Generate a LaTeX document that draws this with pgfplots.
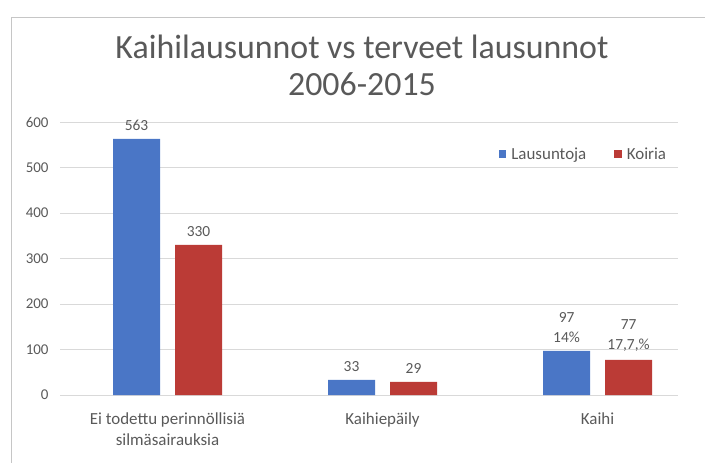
\documentclass[border=0pt]{standalone}
\usepackage{pgfplots}
\pgfplotsset{compat=1.18}
\usepackage{fontspec}
\setmainfont{Carlito}
\definecolor{cblue}{HTML}{4A76C6}
\definecolor{cred}{HTML}{BB3B36}
\definecolor{txt}{HTML}{595959}
\begin{document}
\begin{tikzpicture}
\path[use as bounding box] (0bp,0bp) rectangle (705bp,-463bp);
\draw[gray!45] (11bp,-17bp) rectangle (720bp,-480bp);
\node[anchor=base,text=txt,font=\fontsize{34}{40}\selectfont] at (362bp,-58bp) {Kaihilausunnot vs terveet lausunnot};
\node[anchor=base,text=txt,font=\fontsize{34}{40}\selectfont] at (362bp,-95bp) {2006-2015};
\begin{axis}[
  at={(60bp,-395bp)}, anchor=south west,
  scale only axis, width=618bp, height=273bp,
  xmin=-0.5, xmax=2.374, ymin=0, ymax=600,
  ybar=15bp, bar width=47bp,
  xtick={0,1,2},
  xticklabels={{Ei todettu perinnöllisiä\\silmäsairauksia},Kaihiepäily,Kaihi},
  ytick={0,100,...,600},
  /pgf/number format/assume math mode=true,
  major tick length=0pt,
  axis line style={draw=none},
  ymajorgrids, grid style={color=gray!30, line width=0.8pt},
  tick label style={text=txt},
  yticklabel style={font=\fontsize{15}{18}\selectfont, xshift=-8bp},
  xticklabel style={font=\fontsize{17}{21}\selectfont, align=center, yshift=-14bp},
  nodes near coords,
  point meta=explicit symbolic,
  nodes near coords style={font=\fontsize{15.5}{20}\selectfont, text=txt, align=center, yshift=5bp},
  legend style={at={(0.705,0.883)}, anchor=west, draw=none, fill=none,
    font=\fontsize{17}{20}\selectfont, text=txt, legend columns=2,
    nodes={font=\fontsize{17}{20}\selectfont},
    /tikz/every odd column/.append style={column sep=3bp},
    /tikz/every even column/.append style={column sep=26bp}},
  legend image code/.code={\fill[#1,draw=none] (0bp,-4bp) rectangle (7.5bp,4bp);},
]
\addplot[fill=cblue, draw=none] coordinates {(0,563) [563] (1,33) [33] (2,97) [{97\\14\%}]};
\addplot[fill=cred, draw=none] coordinates {(0,330) [330] (1,29) [29] (2,77) [{77\\17,7,\%}]};
\legend{Lausuntoja, Koiria}
\end{axis}
\end{tikzpicture}
\end{document}
